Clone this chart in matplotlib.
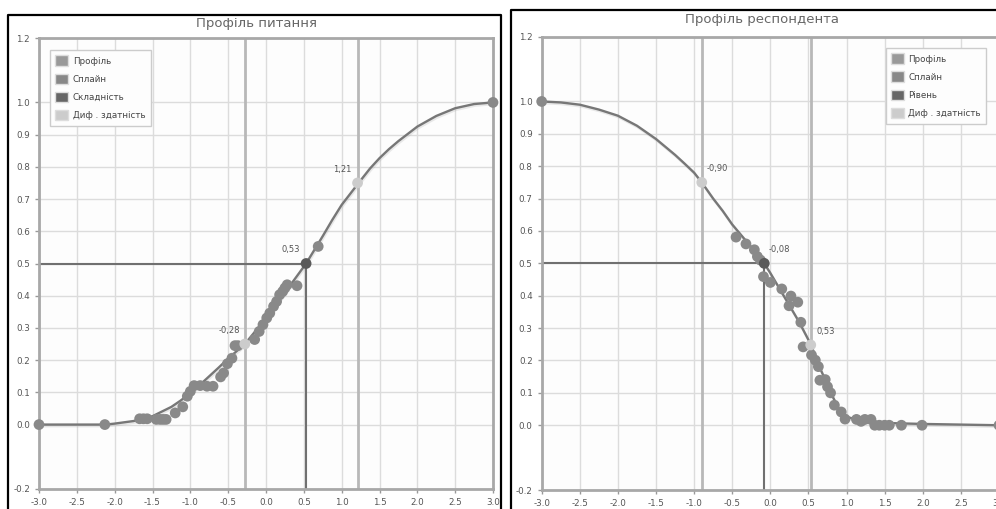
import matplotlib
matplotlib.use("Agg")
import matplotlib.pyplot as plt
import matplotlib.patheffects as pe
from matplotlib.patches import Patch
from matplotlib.ticker import FormatStrFormatter

# ---- left chart: "Профіль питання"
q_curve_x = [-3.0, -2.5, -2.12, -2.0, -1.75, -1.5, -1.25, -1.125, -1.0, -0.875, -0.75,
             -0.625, -0.5, -0.28, 0.0, 0.125, 0.25, 0.375, 0.53, 0.75, 0.875, 1.0, 1.125,
             1.21, 1.375, 1.5, 1.625, 1.75, 2.0, 2.25, 2.5, 2.75, 3.0]
q_curve_y = [0.0, 0.0, 0.0, 0.003, 0.011, 0.026, 0.055, 0.075, 0.098, 0.123, 0.15,
             0.177, 0.205, 0.25, 0.33, 0.37, 0.41, 0.45, 0.50, 0.585, 0.635, 0.682, 0.72,
             0.746, 0.795, 0.827, 0.855, 0.88, 0.925, 0.958, 0.982, 0.995, 1.0]
q_pts_x = [-3.0, -2.13, -1.67, -1.62, -1.57, -1.45, -1.40, -1.36, -1.32, -1.20, -1.10,
           -1.04, -1.0, -0.95, -0.87, -0.78, -0.70, -0.60, -0.56, -0.51, -0.45, -0.41,
           -0.37, -0.15, -0.09, -0.04, 0.01, 0.05, 0.10, 0.14, 0.18, 0.22, 0.25, 0.28,
           0.41, 0.69, 3.0]
q_pts_y = [0.0, 0.0, 0.018, 0.018, 0.018, 0.016, 0.016, 0.016, 0.016, 0.036, 0.055,
           0.088, 0.103, 0.121, 0.121, 0.119, 0.119, 0.148, 0.160, 0.189, 0.206, 0.245,
           0.245, 0.264, 0.289, 0.31, 0.331, 0.346, 0.367, 0.382, 0.403, 0.413, 0.424, 0.434,
           0.431, 0.553, 1.0]
q_level = 0.53
q_disc_x = [-0.28, 1.21]
q_disc_y = [0.25, 0.75]
q_disc_lbl = ["-0,28", "1,21"]

# ---- right chart: "Профіль респондента"
r_curve_x = [-3.0, -2.75, -2.5, -2.25, -2.0, -1.75, -1.5, -1.25, -1.125, -1.0, -0.9, -0.75,
             -0.625, -0.5, -0.375, -0.25, -0.08, 0.0, 0.125, 0.25, 0.375, 0.53, 0.625, 0.75,
             0.825, 0.9, 1.0, 1.125, 1.25, 1.5, 2.0, 2.5, 3.0]
r_curve_y = [1.0, 0.997, 0.99, 0.975, 0.956, 0.925, 0.884, 0.835, 0.808, 0.78, 0.75, 0.70,
             0.662, 0.62, 0.585, 0.55, 0.50, 0.47, 0.42, 0.37, 0.32, 0.25, 0.19, 0.125,
             0.085, 0.05, 0.026, 0.018, 0.012, 0.007, 0.004, 0.002, 0.0]
r_pts_x = [-3.0, -0.45, -0.32, -0.21, -0.17, -0.13, -0.09, 0.0, 0.15, 0.27, 0.245, 0.36,
           0.40, 0.43, 0.54, 0.59, 0.63, 0.65, 0.72, 0.75, 0.79, 0.84, 0.93, 0.98, 1.13,
           1.19, 1.24, 1.32, 1.37, 1.43, 1.50, 1.56, 1.72, 1.99, 3.0]
r_pts_y = [1.0, 0.581, 0.560, 0.542, 0.521, 0.51, 0.459, 0.441, 0.421, 0.399, 0.369, 0.380,
           0.318, 0.242, 0.217, 0.201, 0.181, 0.139, 0.141, 0.119, 0.100, 0.062, 0.041,
           0.019, 0.018, 0.012, 0.018, 0.018, 0.0, 0.0, 0.0, 0.0, 0.0, 0.0, 0.0]
r_level = -0.08
r_disc_x = [-0.90, 0.53]
r_disc_y = [0.75, 0.248]
r_disc_lbl = ["-0,90", "0,53"]

x_ticks = [-3.0, -2.5, -2.0, -1.5, -1.0, -0.5, 0.0, 0.5, 1.0, 1.5, 2.0, 2.5, 3.0]
y_ticks = [-0.2, 0.0, 0.1, 0.2, 0.3, 0.4, 0.5, 0.6, 0.7, 0.8, 0.9, 1.0, 1.2]

plt.rcParams['font.family'] = ['DejaVu Sans']

W, H = 996, 509
fig = plt.figure(figsize=(W / 100, H / 100), dpi=100)


def px_rect(x0, y0, x1, y1):
    return [x0 / W, 1 - y1 / H, (x1 - x0) / W, (y1 - y0) / H]


def draw_panel(ax, cx, cy, px, py, level, dx, dy, dlbl, level_name, legend_loc, anchor, lbl_dx):
    ax.set_facecolor('#fdfdfd')
    ax.set_xlim(-3, 3)
    ax.set_ylim(-0.2, 1.2)
    ax.set_xticks(x_ticks)
    ax.set_yticks(y_ticks)
    ax.xaxis.set_major_formatter(FormatStrFormatter('%.1f'))
    ax.yaxis.set_major_formatter(FormatStrFormatter('%.1f'))
    ax.grid(True, color='#dcdcdc', lw=1)
    ax.set_axisbelow(True)
    ax.tick_params(labelsize=6.3, colors='#999999', labelcolor='#555555', length=3, width=1)
    for s in ax.spines.values():
        s.set_color('#a8a8a8')
        s.set_linewidth(2)

    # discrimination lines (full height)
    for x in dx:
        ax.axvline(x, color='#b8b8b8', lw=2, zorder=1)
    # level lines
    ax.plot([-3, level], [0.5, 0.5], color='#707070', lw=1.5, zorder=2)
    ax.plot([level, level], [-0.2, 0.5], color='#707070', lw=1.5, zorder=2)

    ax.plot(cx, cy, color='#777777', lw=1.7, zorder=3,
            path_effects=[pe.SimpleLineShadow(offset=(0.6, -1.2), shadow_color='#aaaaaa', alpha=0.25),
                          pe.Normal()])
    ax.scatter(px, py, s=60, color='#898989', edgecolors='none', zorder=4, clip_on=False)
    ax.scatter([level], [0.5], s=60, color='#5a5a5a', edgecolors='none', zorder=5)
    ax.scatter(dx, dy, s=60, color='#cccccc', edgecolors='none', zorder=5)

    ax.annotate(f"{level:.2f}".replace('.', ','), (level, 0.5), xytext=(lbl_dx, 6.5),
                textcoords='offset points', ha='center', va='bottom', fontsize=6, color='#555555')
    for x, y, t in zip(dx, dy, dlbl):
        ax.annotate(t, (x, y), xytext=(lbl_dx, 6.5), textcoords='offset points',
                    ha='center', va='bottom', fontsize=6, color='#555555')

    handles = [Patch(facecolor='#999999', edgecolor='#dddddd', lw=1),
               Patch(facecolor='#888888', edgecolor='#dddddd', lw=1),
               Patch(facecolor='#666666', edgecolor='#dddddd', lw=1),
               Patch(facecolor='#cccccc', edgecolor='#dddddd', lw=1)]
    labels = ['Профіль', 'Сплайн', level_name, 'Диф . здатність']
    leg = ax.legend(handles, labels, loc=legend_loc, bbox_to_anchor=anchor, borderaxespad=0,
                    fontsize=6.3, handlelength=1.5, handleheight=1.5, handletextpad=0.5,
                    labelspacing=0.85, borderpad=0.6, fancybox=False, framealpha=1,
                    edgecolor='#cccccc', facecolor='#fdfdfd')
    for t in leg.get_texts():
        t.set_color('#444444')


ax1 = fig.add_axes(px_rect(39, 38, 493, 489))
draw_panel(ax1, q_curve_x, q_curve_y, q_pts_x, q_pts_y, q_level, q_disc_x, q_disc_y,
           q_disc_lbl, 'Складність', 'upper left', (0.024, 0.973), -11)

ax2 = fig.add_axes(px_rect(541.7, 36.7, 999, 490))
draw_panel(ax2, r_curve_x, r_curve_y, r_pts_x, r_pts_y, r_level, r_disc_x, r_disc_y,
           r_disc_lbl, 'Рівень', 'upper right', (0.972, 0.975), 11)

fig.text(256 / W, 1 - 24 / H, 'Профіль питання', ha='center', va='center',
         fontsize=9.5, color='#666666')
fig.text(762 / W, 1 - 20 / H, 'Профіль респондента', ha='center', va='center',
         fontsize=9.5, color='#666666')

# screenshot frames
fig.add_artist(plt.Line2D([8 / W, 8 / W, 501 / W, 501 / W], [0, 1 - 15 / H, 1 - 15 / H, 0],
                          color='black', lw=1.6))
fig.add_artist(plt.Line2D([511 / W, 511 / W, 1.01], [0, 1 - 10 / H, 1 - 10 / H],
                          color='black', lw=1.6))

fig.savefig('out.png', dpi=100)
